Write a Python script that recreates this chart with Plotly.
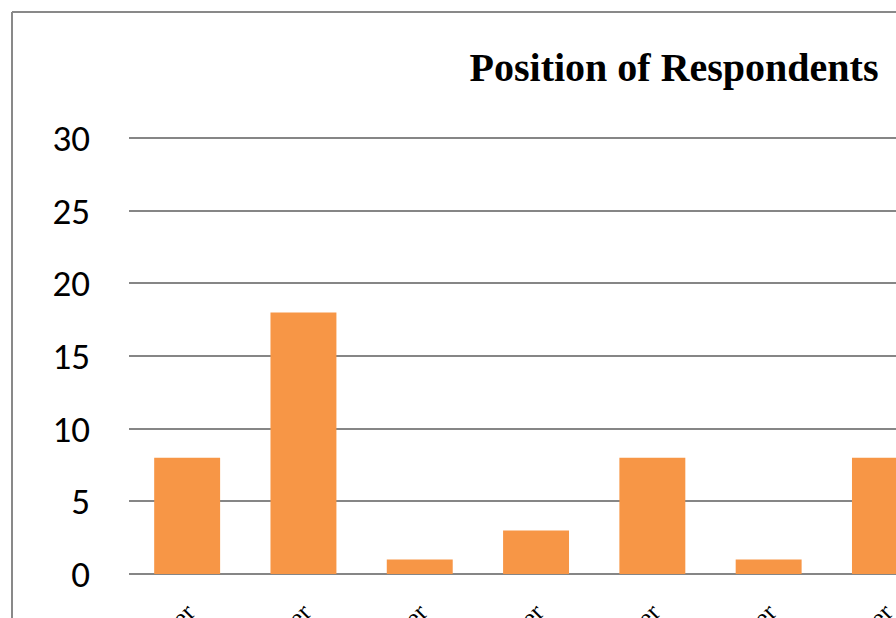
import plotly.graph_objects as go

categories = ["Project Manager", "Site Engineer", "Planner", "Designer", "Officer", "Owner", "Other"]
counts = [8, 18, 1, 3, 8, 1, 8]
y_ticks = [0, 5, 10, 15, 20, 25, 30]

W, H = 896, 618
L, R, T, B = 129, 0, 129, 44
pw, ph = W - L - R, H - T - B
y_top = 30 * ph / 436.0

fig = go.Figure(go.Bar(
    x=list(range(len(categories))), y=counts,
    marker=dict(color="#F79646", line=dict(width=0)),
    width=0.567,
))

def px_to_paper_x(px):
    return (px - L) / pw

def px_to_paper_y(py):
    return (H - B - py) / ph

fig.update_layout(
    width=W, height=H, template="none",
    margin=dict(l=L, r=R, t=T, b=B, autoexpand=False),
    paper_bgcolor="white", plot_bgcolor="white",
    showlegend=False,
    title=dict(text="<b>Position of Respondents</b>", x=674 / W, xref="container",
               xanchor="center", y=1 - 67 / H, yref="container", yanchor="middle",
               font=dict(family="Liberation Serif", size=40, color="black")),
    xaxis=dict(range=[-0.5, -0.5 + pw / 116.3], tickmode="array",
               tickvals=list(range(len(categories))), ticktext=categories,
               tickangle=-45, showgrid=False, zeroline=False, showline=False,
               ticks="", automargin=False, ticklabelstandoff=17,
               ticklabeloverflow="allow",
               tickfont=dict(family="Liberation Serif", size=26, color="black")),
    yaxis=dict(range=[0, y_top], tickmode="array", tickvals=y_ticks,
               showgrid=True, gridcolor="#868686", gridwidth=2,
               zeroline=True, zerolinecolor="#868686", zerolinewidth=2,
               showline=False, ticks="", automargin=False, ticklabelstandoff=38,
               tickfont=dict(family="Carlito, Lato, sans-serif", size=37, color="black")),
    shapes=[
        dict(type="line", xref="paper", yref="paper",
             x0=px_to_paper_x(12), x1=px_to_paper_x(12),
             y0=px_to_paper_y(12), y1=px_to_paper_y(630),
             line=dict(color="#898989", width=2)),
        dict(type="line", xref="paper", yref="paper",
             x0=px_to_paper_x(12), x1=px_to_paper_x(910),
             y0=px_to_paper_y(12), y1=px_to_paper_y(12),
             line=dict(color="#898989", width=2)),
    ],
)

fig.write_html(
    "out.html",
    config={"displayModeBar": False},
    post_script="document.body.style.margin='0';document.body.style.overflow='hidden';",
)
